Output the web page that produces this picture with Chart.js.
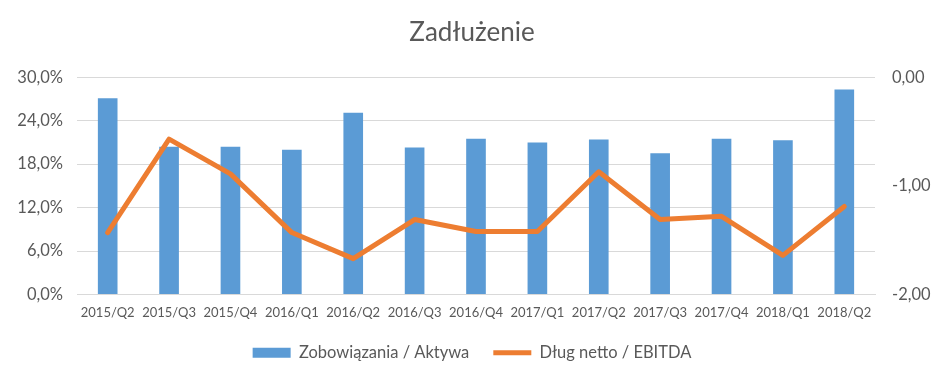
<!DOCTYPE html>
<html>
<head>
<meta charset="utf-8">
<script src="https://cdn.jsdelivr.net/npm/chart.js@4/dist/chart.umd.min.js"></script>
<style>
html,body{margin:0;padding:0;background:#fff;}
#wrap{width:944px;height:383px;}
</style>
</head>
<body>
<div id="wrap"><canvas id="c" width="944" height="383"></canvas></div>
<script>
const categories = ["2015/Q2","2015/Q3","2015/Q4","2016/Q1","2016/Q2","2016/Q3","2016/Q4","2017/Q1","2017/Q2","2017/Q3","2017/Q4","2018/Q1","2018/Q2"];
const zobowiazaniaAktywa = [27.1, 20.4, 20.4, 20.0, 25.1, 20.3, 21.5, 21.0, 21.4, 19.5, 21.5, 21.3, 28.3];
const dlugNettoEbitda = [-1.43, -0.57, -0.89, -1.43, -1.67, -1.31, -1.42, -1.42, -0.87, -1.31, -1.28, -1.64, -1.19];
const leftTicks = [0, 6, 12, 18, 24, 30];
const rightTicks = [-2, -1, 0];

const FONT = "Lato";
const TXT = "#595959";

new Chart(document.getElementById('c'), {
  data: {
    labels: categories,
    datasets: [
      {
        type: 'line',
        label: 'Dług netto / EBITDA',
        data: dlugNettoEbitda,
        yAxisID: 'y2',
        borderColor: '#ED7D31',
        backgroundColor: '#ED7D31',
        borderWidth: 5,
        borderCapStyle: 'round',
        borderJoinStyle: 'round',
        pointRadius: 0,
        pointHoverRadius: 0,
        pointStyle: 'line',
        tension: 0,
        order: 1
      },
      {
        type: 'bar',
        label: 'Zobowiązania / Aktywa',
        data: zobowiazaniaAktywa,
        yAxisID: 'y',
        backgroundColor: '#5B9BD5',
        borderWidth: 0,
        pointStyle: 'rect',
        categoryPercentage: 0.32,
        barPercentage: 1,
        order: 2
      }
    ]
  },
  options: {
    responsive: false,
    animation: false,
    layout: { padding: { left: 0, right: 0, top: 0, bottom: 12 } },
    plugins: {
      title: {
        display: true,
        text: 'Zadłużenie',
        color: TXT,
        font: { family: FONT, size: 26, weight: 'normal' },
        padding: { top: 17, bottom: 29 }
      },
      legend: {
        position: 'bottom',
        reverse: true,
        labels: {
          usePointStyle: true,
          pointStyleWidth: 38,
          boxHeight: 10,
          padding: 24,
          color: TXT,
          font: { family: FONT, size: 16.5 }
        }
      },
      tooltip: { enabled: false }
    },
    scales: {
      x: {
        afterFit: s => { s.height = 26; },
        grid: { display: false, drawTicks: false },
        border: { display: true, color: '#D9D9D9', width: 1 },
        ticks: { color: TXT, font: { family: FONT, size: 13 }, padding: 11, maxRotation: 0, autoSkip: false }
      },
      y: {
        position: 'left',
        min: 0, max: 30,
        afterBuildTicks: s => { s.ticks = leftTicks.map(v => ({ value: v })); },
        afterFit: s => { s.width = 77; },
        grid: { color: '#D9D9D9', lineWidth: 1, drawTicks: false },
        border: { display: false },
        ticks: {
          color: TXT, font: { family: FONT, size: 16.5 }, padding: 14,
          callback: v => v.toFixed(1).replace('.', ',') + '%'
        }
      },
      y2: {
        position: 'right',
        min: -2, max: 0,
        afterBuildTicks: s => { s.ticks = rightTicks.map(v => ({ value: v })); },
        afterFit: s => { s.width = 69; },
        grid: { display: false, drawTicks: false },
        border: { display: false },
        ticks: {
          color: TXT, font: { family: FONT, size: 16.5 }, padding: 17, crossAlign: 'near',
          callback: v => v.toFixed(2).replace('.', ',')
        }
      }
    }
  }
});
</script>
</body>
</html>
